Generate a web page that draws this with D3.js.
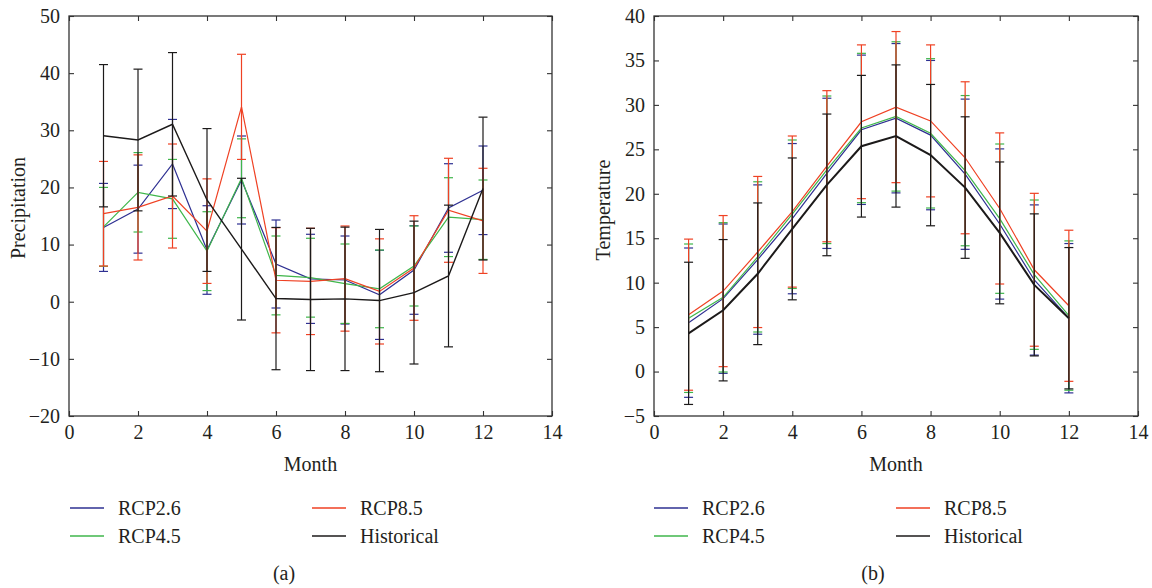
<!DOCTYPE html>
<html>
<head>
<meta charset="utf-8">
<script src="https://cdn.jsdelivr.net/npm/d3@7"></script>
<style>
  body { margin: 0; background: #fff; }
  svg { display: block; }
  text { font-family: "Liberation Serif", "DejaVu Serif", serif; fill: #231f20; }
</style>
</head>
<body>
<div id="chart"></div>
<script>
// months and ticks
const months = [1, 2, 3, 4, 5, 6, 7, 8, 9, 10, 11, 12];
const xTicks = [0, 2, 4, 6, 8, 10, 12, 14];
const precipTicks = [-20, -10, 0, 10, 20, 30, 40, 50];
const tempTicks = [-5, 0, 5, 10, 15, 20, 25, 30, 35, 40];
const seriesNames = ['RCP2.6', 'RCP4.5', 'RCP8.5', 'Historical'];

// (a) precipitation, mean and +/- spread
const precipRcp26 = [13.0, 16.2, 24.1, 9.05, 21.3, 6.6, 4.0, 3.8, 1.2, 5.55, 16.4, 19.5];
const precipRcp26Err = [7.7, 7.7, 7.8, 7.75, 7.7, 7.7, 7.8, 7.7, 7.8, 7.75, 7.75, 7.75];
const precipRcp45 = [13.1, 19.15, 18.0, 8.85, 21.6, 4.6, 4.2, 3.15, 2.25, 6.25, 14.8, 14.35];
const precipRcp45Err = [6.9, 6.95, 6.9, 6.9, 6.9, 6.9, 6.9, 6.95, 6.8, 7.0, 6.9, 6.95];
const precipRcp85 = [15.4, 16.5, 18.5, 12.35, 34.1, 3.75, 3.55, 4.05, 1.8, 5.9, 16.0, 14.15];
const precipRcp85Err = [9.15, 9.2, 9.1, 9.15, 9.2, 9.2, 9.3, 9.2, 9.2, 9.15, 9.1, 9.2];
const precipHist = [29.05, 28.3, 31.05, 17.8, 9.2, 0.55, 0.4, 0.5, 0.2, 1.6, 4.5, 19.8];
const precipHistErr = [12.45, 12.4, 12.55, 12.5, 12.4, 12.45, 12.45, 12.55, 12.45, 12.5, 12.4, 12.5];

// (b) temperature
const tempRcp26 = [5.5, 8.2, 12.6, 17.2, 22.3, 27.2, 28.5, 26.6, 22.2, 16.6, 10.3, 6.0];
const tempRcp26Err = [8.4, 8.4, 8.4, 8.45, 8.45, 8.4, 8.4, 8.4, 8.45, 8.45, 8.45, 8.4];
const tempRcp45 = [6.0, 8.35, 12.9, 17.7, 22.7, 27.4, 28.7, 26.8, 22.6, 17.2, 10.9, 6.3];
const tempRcp45Err = [8.35, 8.4, 8.45, 8.35, 8.3, 8.4, 8.4, 8.4, 8.45, 8.4, 8.4, 8.4];
const tempRcp85 = [6.4, 9.05, 13.45, 18.0, 23.1, 28.1, 29.75, 28.2, 24.05, 18.35, 11.45, 7.4];
const tempRcp85Err = [8.5, 8.5, 8.5, 8.5, 8.5, 8.65, 8.5, 8.55, 8.55, 8.5, 8.6, 8.5];
const tempHist = [4.3, 6.9, 11.0, 16.05, 21.0, 25.35, 26.5, 24.35, 20.7, 15.6, 9.75, 6.0];
const tempHistErr = [8.0, 7.95, 7.97, 7.98, 7.97, 7.97, 8.0, 7.95, 7.96, 7.98, 7.99, 7.95];

const colors = { 'RCP2.6': '#2e3092', 'RCP4.5': '#3fb64b', 'RCP8.5': '#ef4123', 'Historical': '#1c1a1a' };

const W = 1152, H = 588;
const FS = '20px';
const svg = d3.select('#chart').append('svg').attr('width', W).attr('height', H);

function drawPanel(p) {
  const x = d3.scaleLinear().domain([0, 14]).range([p.left, p.right]);
  const y = d3.scaleLinear().domain(p.yDomain).range([p.bottom, p.top]);
  const g = svg.append('g');

  // ticks, pointing inward on all four sides
  const tickLen = -5;
  g.append('g').attr('transform', `translate(0,${p.bottom})`)
    .call(d3.axisBottom(x).tickValues(xTicks).tickSize(tickLen).tickPadding(9));
  g.append('g').attr('transform', `translate(0,${p.top})`)
    .call(d3.axisTop(x).tickValues(xTicks).tickSize(tickLen).tickFormat(''));
  g.append('g').attr('transform', `translate(${p.left},0)`)
    .call(d3.axisLeft(y).tickValues(p.yTicks).tickSize(tickLen).tickPadding(9)
      .tickFormat(d => d < 0 ? '\u2212' + Math.abs(d) : d));
  g.append('g').attr('transform', `translate(${p.right},0)`)
    .call(d3.axisRight(y).tickValues(p.yTicks).tickSize(tickLen).tickFormat(''));

  g.selectAll('.domain').remove();
  g.selectAll('.tick line').attr('stroke', '#333').attr('stroke-width', 1.1);
  g.selectAll('.tick text').style('font-size', FS).attr('fill', '#231f20')
    .style('font-family', '"Liberation Serif", serif');

  // series
  p.series.forEach(s => {
    const c = colors[s.name];
    const pts = months.map((m, i) => ({ m, v: s.mean[i], e: s.err[i] }));
    const sg = g.append('g');
    sg.selectAll('line.stem').data(pts).enter().append('line')
      .attr('x1', d => x(d.m)).attr('x2', d => x(d.m))
      .attr('y1', d => y(d.v - d.e)).attr('y2', d => y(d.v + d.e))
      .attr('stroke', c).attr('stroke-width', 1.2);
    ['lo', 'hi'].forEach(k => {
      sg.selectAll('line.cap' + k).data(pts).enter().append('line')
        .attr('x1', d => x(d.m) - 4.5).attr('x2', d => x(d.m) + 4.5)
        .attr('y1', d => y(k === 'lo' ? d.v - d.e : d.v + d.e))
        .attr('y2', d => y(k === 'lo' ? d.v - d.e : d.v + d.e))
        .attr('stroke', c).attr('stroke-width', 1.2);
    });
    sg.append('path').datum(pts)
      .attr('d', d3.line().x(d => x(d.m)).y(d => y(d.v)))
      .attr('fill', 'none').attr('stroke', c)
      .attr('stroke-width', s.name === 'Historical' ? p.histWidth : 1.2);
  });

  // frame
  g.append('rect').attr('x', p.left).attr('y', p.top)
    .attr('width', p.right - p.left).attr('height', p.bottom - p.top)
    .attr('fill', 'none').attr('stroke', '#333').attr('stroke-width', 1.3);

  // axis titles
  g.append('text').attr('x', (p.left + p.right) / 2).attr('y', 471)
    .attr('text-anchor', 'middle').style('font-size', FS).text('Month');
  g.append('text')
    .attr('transform', `translate(${p.yTitleX},${p.yTitleY}) rotate(-90)`)
    .attr('text-anchor', 'middle').style('font-size', FS).text(p.yTitle);

  // legend, two columns
  const legendPos = [
    { col: 0, row: 0 }, { col: 0, row: 1 }, { col: 1, row: 0 }, { col: 1, row: 1 }
  ];
  seriesNames.forEach((name, i) => {
    const lp = legendPos[i];
    const lx = p.legendX[lp.col];
    const ly = 508 + lp.row * 28;
    g.append('line').attr('x1', lx).attr('x2', lx + 34).attr('y1', ly).attr('y2', ly)
      .attr('stroke', colors[name]).attr('stroke-width', 1.6);
    g.append('text').attr('x', lx + 48).attr('y', ly + 7)
      .style('font-size', FS).text(name);
  });

  g.append('text').attr('x', p.captionX).attr('y', 580)
    .attr('text-anchor', 'middle').style('font-size', FS).text(p.caption);
}

drawPanel({
  left: 69, right: 552, top: 16, bottom: 416,
  yDomain: [-20, 50], yTicks: precipTicks,
  yTitle: 'Precipitation', yTitleX: 25, yTitleY: 208,
  histWidth: 1.4,
  legendX: [70, 312],
  caption: '(a)', captionX: 284,
  series: [
    { name: 'RCP2.6', mean: precipRcp26, err: precipRcp26Err },
    { name: 'RCP4.5', mean: precipRcp45, err: precipRcp45Err },
    { name: 'RCP8.5', mean: precipRcp85, err: precipRcp85Err },
    { name: 'Historical', mean: precipHist, err: precipHistErr }
  ]
});

drawPanel({
  left: 654, right: 1138, top: 16, bottom: 416,
  yDomain: [-5, 40], yTicks: tempTicks,
  yTitle: 'Temperature', yTitleX: 610, yTitleY: 210,
  histWidth: 2,
  legendX: [654, 896],
  caption: '(b)', captionX: 873,
  series: [
    { name: 'RCP2.6', mean: tempRcp26, err: tempRcp26Err },
    { name: 'RCP4.5', mean: tempRcp45, err: tempRcp45Err },
    { name: 'RCP8.5', mean: tempRcp85, err: tempRcp85Err },
    { name: 'Historical', mean: tempHist, err: tempHistErr }
  ]
});
</script>
</body>
</html>
